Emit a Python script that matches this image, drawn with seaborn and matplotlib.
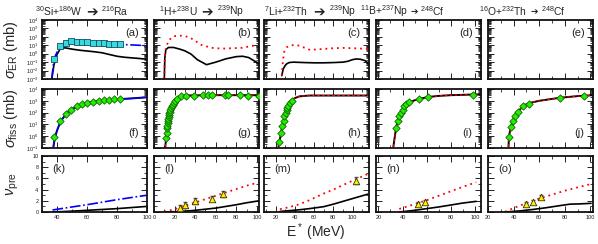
import numpy as np
import matplotlib
matplotlib.use("Agg")
import matplotlib.pyplot as plt
import seaborn as sns
from matplotlib.ticker import LogLocator, MultipleLocator, NullFormatter

# ---- top row: evaporation residue cross sections (mb)
a_exp_E = [38.0, 42.2, 45.8, 49.3, 53.1, 56.7, 60.2, 64.0, 67.8, 71.3, 74.7, 78.2, 82.0]
a_exp_sig = [0.24, 7.8, 21, 31, 28, 25, 25, 21, 19.5, 18, 16, 16, 13.5]
a_fit_E = [36.5, 38, 40, 42.2, 45, 48, 52, 56, 60, 65, 70, 75, 80, 85, 90, 95, 100]
a_fit_sig = [0.001, 0.24, 1.5, 7.8, 20, 30, 32, 29, 26, 22, 19, 16, 14, 12, 11, 10, 9]
a_calc_E = [36.5, 38, 40, 42, 44, 46, 50, 55, 60, 65, 70, 75, 80, 85, 90, 95, 100]
a_calc_sig = [0.001, 0.05, 0.8, 3.5, 5, 4.8, 3.5, 2.6, 2.1, 1.7, 1.3, 0.8, 0.5, 0.38, 0.32, 0.27, 0.22]

b_red_E = [10, 10.5, 11.5, 14, 19, 27, 33, 38, 46, 56, 66, 76, 86, 94, 102]
b_red_sig = [0.001, 0.3, 3.7, 36, 120, 140, 100, 50, 11, 5, 4, 4.5, 5, 8, 11]
b_blk_E = [10, 10.5, 11.5, 14, 19, 25, 30, 36, 42, 51, 60, 70, 80, 86, 92, 97, 102]
b_blk_sig = [0.001, 0.3, 3.0, 5.5, 5.5, 3.5, 2.2, 0.9, 0.2, 0.05, 0.1, 0.25, 0.45, 0.5, 0.35, 0.15, 0.07]

c_red_E = [26.4, 27.5, 28.8, 31.6, 36, 42, 48, 55.8, 62, 69.6, 80, 90, 100, 110, 117]
c_red_sig = [0.0025, 0.1, 1.5, 5.9, 10, 11, 6.3, 2.8, 3.2, 3.7, 4.5, 4.9, 4.5, 4.0, 3.7]
c_blk_E = [26.4, 28, 30, 31.6, 34, 38.4, 50, 60, 70, 80, 90, 95, 100, 104, 108, 113, 117]
c_blk_sig = [0.0025, 0.016, 0.04, 0.063, 0.089, 0.1, 0.089, 0.083, 0.083, 0.089, 0.1,
             0.126, 0.2, 0.24, 0.22, 0.15, 0.063]

# ---- middle row: fission cross sections (mb)
f_exp_sig = [0.8, 18, 76, 180, 340, 540, 660, 800, 980, 1100, 1260, 1450, 1450]
f_line_E = [37.6, 38.7, 40, 42.4, 46, 50, 55, 60, 65, 70, 75, 80, 90, 100]
f_line_sig = [0.13, 0.8, 3, 18, 76, 200, 400, 650, 850, 1000, 1200, 1350, 1600, 2000]

g_exp_E = [11.7, 12.2, 12.7, 13.0, 13.3, 13.6, 14.0, 14.3, 14.7, 15.0, 15.5, 16.0, 16.5, 17.0,
           18.0, 19.0, 20.5, 22.7, 26, 31, 39, 47.7, 52.7, 56.7, 69.3, 72, 84, 91, 102]
g_exp_sig = [0.7, 2, 4.8, 8, 13, 20, 30, 45, 65, 90, 120, 180, 250, 330, 450, 630, 900, 1500,
             2500, 2800, 2800, 2900, 3000, 3000, 3100, 3100, 2900, 2800, 2800]
g_line_E = [11, 11.7, 13, 15, 17, 19, 22, 26, 30, 40, 60, 80, 102]
g_line_sig = [0.13, 0.7, 8, 90, 330, 630, 1400, 2400, 2800, 2900, 3000, 3000, 3000]

h_exp_E = [23.9, 25.7, 27, 28.4, 29, 30.5, 31.6, 32.2, 33.3, 35, 36.8]
h_exp_sig = [0.31, 1.8, 7.6, 21, 48, 93, 155, 245, 390, 660, 910]
h_line_E = [23, 23.9, 25.7, 27, 28.4, 30.5, 33.3, 36.8, 40, 45, 55, 70, 90, 117]
h_line_sig = [0.13, 0.31, 1.8, 7.6, 21, 93, 390, 910, 1700, 2400, 2800, 2800, 2800, 2800]

i_exp_E = [34.6, 36, 37.3, 38.5, 40.1, 41.6, 42.6, 45.6, 53.9, 61.4, 98.1]
i_exp_sig = [4.8, 21, 54, 93, 180, 340, 580, 740, 1450, 2150, 3400]
i_line_E = [32.4, 34.6, 36, 38.5, 42, 45.6, 50, 54, 61, 70, 80, 90, 98, 105]
i_line_sig = [0.13, 4.8, 21, 93, 400, 740, 1100, 1450, 2100, 2600, 3000, 3200, 3400, 3500]

j_exp_E = [36.4, 37.7, 39.3, 41.1, 43.2, 47.6, 52.3, 76.3, 95.2]
j_exp_sig = [0.93, 5.9, 18, 48, 110, 390, 580, 1800, 2800]
j_line_E = [36.0, 36.4, 37.7, 39.3, 41.1, 43.2, 47.6, 52.3, 60, 70, 76, 90, 102]
j_line_sig = [0.13, 0.93, 5.9, 18, 48, 110, 390, 650, 1000, 1450, 1800, 2500, 3000]

# ---- bottom row: pre-scission neutron multiplicity
k_blue_E = [37, 50, 60, 70, 80, 90, 100]
k_blue_nu = [0.36, 0.9, 1.3, 1.75, 2.2, 2.6, 3.0]
k_blk_E = [37, 50, 60, 70, 80, 90, 100]
k_blk_nu = [0.0, 0.15, 0.3, 0.45, 0.6, 0.8, 1.0]

l_red_E = [10, 20, 30, 40, 50, 60, 70, 80, 90, 102]
l_red_nu = [0.05, 0.5, 1.1, 1.7, 2.3, 2.9, 3.5, 4.1, 4.7, 5.3]
l_blk_E = [10, 20, 30, 40, 50, 60, 70, 80, 90, 102]
l_blk_nu = [0, 0.05, 0.15, 0.3, 0.5, 0.7, 1.0, 1.3, 1.65, 2.0]
l_exp_E = [25, 30, 40, 56, 66.7]
l_exp_nu = [0.8, 1.2, 2.0, 2.4, 3.2]
l_exp_err = [0.5, 0.5, 0.5, 0.5, 0.5]

m_red_E = [24.6, 35, 45, 55, 70, 80, 90, 100, 116]
m_red_nu = [0.5, 0.9, 1.4, 2.1, 3.3, 4.0, 4.8, 5.6, 6.8]
m_blk_E = [24.6, 35, 45, 55, 70, 80, 90, 100, 116]
m_blk_nu = [0.1, 0.25, 0.4, 0.6, 0.95, 1.4, 1.9, 2.4, 3.2]
m_exp_E = [103]
m_exp_nu = [5.6]
m_exp_err = [0.6]

n_red_E = [37.3, 50, 60, 70, 80, 90, 101]
n_red_nu = [0.55, 1.4, 2.1, 2.9, 3.7, 4.5, 5.3]
n_blk_E = [37.3, 50, 60, 70, 80, 90, 101]
n_blk_nu = [0.0, 0.3, 0.6, 0.9, 1.25, 1.6, 1.9]
n_exp_E = [52.5, 58.6]
n_exp_nu = [1.4, 1.85]
n_exp_err = [0.3, 0.3]

o_red_E = [33.3, 40, 50, 60, 70, 80, 90, 100.5]
o_red_nu = [0.05, 0.7, 1.6, 2.4, 3.1, 3.8, 4.4, 5.0]
o_blk_E = [33.3, 45, 55, 65, 75, 84, 92, 100.5]
o_blk_nu = [0, 0.2, 0.45, 0.75, 1.1, 1.4, 1.45, 1.55]
o_exp_E = [49.7, 55.4, 61.2]
o_exp_nu = [1.4, 1.8, 2.6]
o_exp_err = [0.35, 0.35, 0.35]

titles = [r"$^{30}$Si+$^{186}$W", r"$^{1}$H+$^{238}$U", r"$^{7}$Li+$^{232}$Th",
          r"$^{11}$B+$^{237}$Np", r"$^{16}$O+$^{232}$Th"]
products = [r"$^{216}$Ra", r"$^{239}$Np", r"$^{239}$Np", r"$^{248}$Cf", r"$^{248}$Cf"]
xlims = [(30, 100), (0, 102), (8, 117), (18, 105), (20, 102)]

sns.set_style("ticks")
plt.rcParams['font.family'] = ['Liberation Sans', 'DejaVu Sans']
plt.rcParams['mathtext.fontset'] = 'custom'
plt.rcParams['mathtext.rm'] = 'Liberation Sans'
plt.rcParams['mathtext.it'] = 'Liberation Sans:italic'
plt.rcParams['mathtext.bf'] = 'Liberation Sans:bold'

W, H = 598, 244
fig = plt.figure(figsize=(W / 100, H / 100), dpi=100)

col_left = [42, 154, 264, 376, 488]
col_w = 105
rows = [(20, 79), (89, 148), (156, 212)]
# title layout in pixels: end of reaction text, arrow centre, start of product
title_end = [83, 198, 308, 408, 527]
arrow_x = [92, 207, 319, 414, 534]
prod_start = [101, 217, 329, 420, 541]
arrow_fs = [10, 10, 10, 6.5, 6.5]

RED_DOT = (0, (1, 2.2))
TICK_FS = 4.0


def make_ax(r, c):
    top, bot = rows[r]
    ax = fig.add_axes([col_left[c] / W, 1 - bot / H, col_w / W, (bot - top) / H])
    ax.set_xlim(*xlims[c])
    ax.xaxis.set_major_locator(MultipleLocator(20))
    ax.xaxis.set_minor_locator(MultipleLocator(10))
    if r < 2:
        ax.set_yscale('log')
        ax.set_ylim(1e-3 if r == 0 else 1e-1, 1e4)
        ax.yaxis.set_major_locator(LogLocator(base=10, numticks=20))
        ax.yaxis.set_minor_locator(LogLocator(base=10, subs=np.arange(2, 10), numticks=20))
        ax.yaxis.set_minor_formatter(NullFormatter())
        ax.set_xticklabels([])
    else:
        ax.set_ylim(0, 10)
        ax.yaxis.set_major_locator(MultipleLocator(2))
        ax.yaxis.set_minor_locator(MultipleLocator(1))
    if c > 0:
        ax.tick_params(axis='y', which='both', labelleft=False)
    ax.tick_params(which='both', direction='in', top=True, right=True, labelsize=TICK_FS,
                   colors='#222222', pad=2.5)
    ax.tick_params(which='major', length=4, width=0.7)
    ax.tick_params(which='minor', length=2, width=0.6)
    for s in ax.spines.values():
        s.set_linewidth(1.3)
        s.set_color('#111111')
    ax.set_xlabel('')
    ax.set_ylabel('')
    return ax


def line(ax, x, y, color, ls='-', lw=1.2):
    sns.lineplot(x=x, y=y, ax=ax, color=color, linestyle=ls, linewidth=lw,
                 sort=False, estimator=None, legend=False)


def points(ax, x, y, marker, fc, ec, s=18):
    sns.scatterplot(x=x, y=y, ax=ax, marker=marker, s=s, color=fc, edgecolor=ec,
                    linewidth=0.6, zorder=5, legend=False)


axes = [[make_ax(r, c) for c in range(5)] for r in range(3)]

# top row
ax = axes[0][0]
line(ax, a_calc_E, a_calc_sig, 'black')
line(ax, a_fit_E, a_fit_sig, 'blue', ls='-.')
points(ax, a_exp_E, a_exp_sig, 's', '#33dddd', '#1a4a6a', s=20)
ax = axes[0][1]
line(ax, b_blk_E, b_blk_sig, 'black')
line(ax, b_red_E, b_red_sig, 'red', ls=RED_DOT, lw=1.3)
ax = axes[0][2]
line(ax, c_blk_E, c_blk_sig, 'black')
line(ax, c_red_E, c_red_sig, 'red', ls=RED_DOT, lw=1.3)

# middle row
green = '#22ee00'
dkgreen = '#116600'
ax = axes[1][0]
line(ax, f_line_E, f_line_sig, 'black', lw=1.4)
line(ax, f_line_E, f_line_sig, 'blue', lw=1.0)
points(ax, a_exp_E, f_exp_sig, 'D', green, dkgreen, s=14)
for ax, lx, ly, ex, ey in [(axes[1][1], g_line_E, g_line_sig, g_exp_E, g_exp_sig),
                           (axes[1][2], h_line_E, h_line_sig, h_exp_E, h_exp_sig),
                           (axes[1][3], i_line_E, i_line_sig, i_exp_E, i_exp_sig),
                           (axes[1][4], j_line_E, j_line_sig, j_exp_E, j_exp_sig)]:
    line(ax, lx, ly, 'black', lw=1.4)
    line(ax, lx, ly, 'red', ls=(0, (2, 2)), lw=0.9)
    points(ax, ex, ey, 'D', green, dkgreen, s=14)

# bottom row
ax = axes[2][0]
line(ax, k_blk_E, k_blk_nu, 'black')
line(ax, k_blue_E, k_blue_nu, 'blue', ls='-.')
for ax, rx, ry, bx, by, ex, ey, ee in [
        (axes[2][1], l_red_E, l_red_nu, l_blk_E, l_blk_nu, l_exp_E, l_exp_nu, l_exp_err),
        (axes[2][2], m_red_E, m_red_nu, m_blk_E, m_blk_nu, m_exp_E, m_exp_nu, m_exp_err),
        (axes[2][3], n_red_E, n_red_nu, n_blk_E, n_blk_nu, n_exp_E, n_exp_nu, n_exp_err),
        (axes[2][4], o_red_E, o_red_nu, o_blk_E, o_blk_nu, o_exp_E, o_exp_nu, o_exp_err)]:
    line(ax, bx, by, 'black')
    line(ax, rx, ry, 'red', ls=RED_DOT, lw=1.3)
    ax.errorbar(ex, ey, yerr=ee, fmt='none', ecolor='#555555', elinewidth=0.7,
                capsize=1.5, zorder=4)
    points(ax, ex, ey, '^', '#ffee00', '#333300', s=22)

# panel labels
letters = 'abcdefghijklmno'
for r in range(3):
    for c in range(5):
        lab = '(' + letters[r * 5 + c] + ')'
        if r == 0:
            axes[r][c].text(0.92, 0.78, lab, transform=axes[r][c].transAxes,
                            ha='right', va='center', fontsize=8)
        elif r == 1:
            axes[r][c].text(0.92, 0.25, lab, transform=axes[r][c].transAxes,
                            ha='right', va='center', fontsize=8)
        else:
            axes[r][c].text(0.1, 0.76, lab, transform=axes[r][c].transAxes,
                            ha='left', va='center', fontsize=8)

# titles: reaction, arrow, compound nucleus
ty = 1 - 11 / H
for c in range(5):
    fig.text(title_end[c] / W, ty, titles[c], ha='right', va='center', fontsize=7.4)
    fig.text(arrow_x[c] / W, ty - 1 / H, "\u2794", ha='center', va='center',
             fontsize=arrow_fs[c], family='DejaVu Sans')
    fig.text(prod_start[c] / W, ty, products[c], ha='left', va='center', fontsize=7.4)

fig.text(11 / W, 1 - 50 / H, r"$\sigma_{\rm ER}$ (mb)", rotation=90, ha='center',
         va='center', fontsize=10.5)
fig.text(11 / W, 1 - 118 / H, r"$\sigma_{\rm fiss}$ (mb)", rotation=90, ha='center',
         va='center', fontsize=10.5)
fig.text(13 / W, 1 - 184 / H, r"$\nu_{\rm pre}$", rotation=90, ha='center',
         va='center', fontsize=10.5)
fig.text(316 / W, 1 - 232 / H, r"E$^*$ (MeV)", ha='center', va='center', fontsize=10)

fig.savefig("out.png", dpi=100)
